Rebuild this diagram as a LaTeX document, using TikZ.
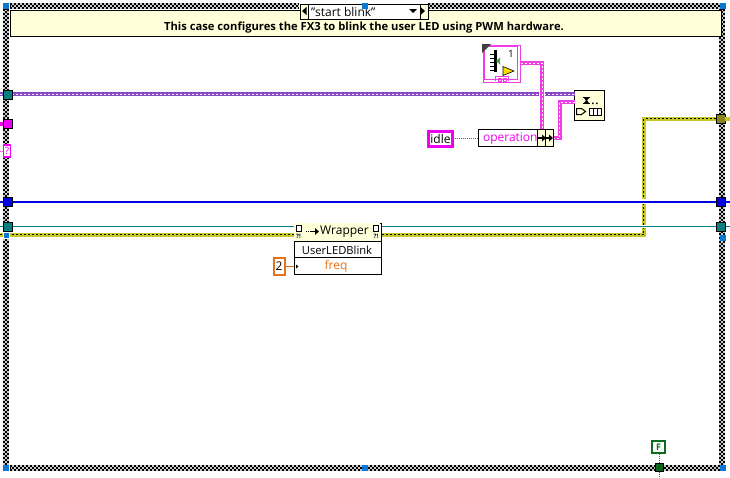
\documentclass[tikz,border=0pt]{standalone}
\usepackage{fontspec}
\setmainfont{Open Sans}
\definecolor{cream}{HTML}{FFFFD9}
\definecolor{pinkw}{HTML}{F23CE6}
\definecolor{mag}{HTML}{F000F0}
\definecolor{tealw}{HTML}{007F86}
\definecolor{tealf}{HTML}{0B7F7F}
\definecolor{purp}{HTML}{8848C8}
\definecolor{yel}{HTML}{C8C828}
\definecolor{olive2}{HTML}{8C8418}
\definecolor{bluew}{HTML}{0000E0}
\definecolor{handle}{HTML}{0A78D2}
\definecolor{orng}{HTML}{E8701A}
\definecolor{grn}{HTML}{0B6E1E}
\tikzset{
  box/.style={draw=black,line width=1pt,fill=white,inner sep=0pt,outer sep=0pt,rectangle,minimum width=#1},
  tunnel/.style={draw=black,line width=1pt,inner sep=0pt,outer sep=0pt,minimum size=9pt,fill=#1},
  handlebox/.style={fill=handle,inner sep=0pt,outer sep=0pt,minimum size=6pt},
  checkrow/.style={black,line width=2pt,dash pattern=on 2.2pt off 1.8pt},
  clusterw/.style={pinkw,line width=4pt,line join=miter,postaction={draw=white,line width=1pt,dash pattern=on 2pt off 2pt}},
  busw/.style={purp,line width=4pt,postaction={draw=white,line width=1pt,dash pattern=on 2pt off 2pt}},
  errw/.style={yel,line width=4pt,line join=miter,postaction={draw=black,line width=1.5pt,dash pattern=on 2pt off 2pt}},
  bluewire/.style={bluew,line width=2pt,preaction={draw=white,line width=5pt}},
  tealwire/.style={tealw,line width=1pt,preaction={draw=white,line width=3pt}},
  thinpink/.style={mag,line width=1pt,dash pattern=on 1.5pt off .5pt},
  lbl/.style={font=\fontsize{12}{14}\selectfont,inner sep=0pt,outer sep=0pt},
}
\newcommand{\hband}[3]{% x1 x2 ytop
  \fill[black!22] (#1,#3) rectangle (#2,#3+6);
  \draw[checkrow] (#1,#3+1) -- (#2,#3+1);
  \draw[checkrow,dash phase=2pt] (#1,#3+3) -- (#2,#3+3);
  \draw[checkrow] (#1,#3+5) -- (#2,#3+5);
}
\newcommand{\vband}[3]{% y1 y2 xleft
  \fill[black!22] (#3,#1) rectangle (#3+6,#2);
  \draw[checkrow] (#3+1,#1) -- (#3+1,#2);
  \draw[checkrow,dash phase=2pt] (#3+3,#1) -- (#3+3,#2);
  \draw[checkrow] (#3+5,#1) -- (#3+5,#2);
}
\begin{document}
\begin{tikzpicture}[x=1pt,y=-1pt]
\useasboundingbox (0,0) rectangle (730,477);
\fill[white] (0,0) rectangle (730,477);
% frame
\hband{10}{299}{3}
\hband{428}{720}{3}
\hband{10}{720}{465}
\vband{9}{465}{3}
\vband{9}{465}{719}
% comment
\node[draw=black,line width=1pt,fill=cream,minimum width=711pt,minimum height=26pt,inner sep=0pt,anchor=north west] (note) at (9.5,9.5) {};
\node[lbl,font=\fontsize{11.2}{14}\selectfont\bfseries] (notetext) at (364,27.5) {This case configures the FX3 to blink the user LED using PWM hardware.};
% selector
\node[draw=black,line width=1pt,fill=cream,minimum width=128pt,minimum height=15pt,inner sep=0pt,anchor=north west] (sel) at (299.5,3.5) {};
\node[draw=black,line width=1pt,fill=white,minimum width=112pt,minimum height=15pt,inner sep=0pt,anchor=north west] (selin) at (307.5,3.5) {};
\fill (302,11) -- (306.5,7) -- (306.5,15) -- cycle;
\fill (425,11) -- (420.5,7) -- (420.5,15) -- cycle;
\fill (409,9) -- (417,9) -- (413,13) -- cycle;
\node[lbl,anchor=west] (seltext) at (311,12) {"start blink"};
% coordinates for free wire ends
\coordinate (l94) at (0,94);
\coordinate (l123) at (0,123.5);
\coordinate (l151) at (0,151);
\coordinate (l201) at (0,201.5);
\coordinate (r201) at (730,201.5);
\coordinate (l226) at (0,226.5);
\coordinate (r226) at (730,226.5);
\coordinate (l234) at (0,234.5);
\coordinate (r118) at (730,118.5);
\coordinate (b477) at (659.5,477);
% nodes placed first
\node[tunnel=olive2] (tOlive) at (720.5,118.5) {};
\node[draw=black,line width=1pt,fill=white,minimum width=87pt,minimum height=51pt,inner sep=0pt,anchor=north west] (wrap) at (293.5,222.5) {};
% wires
\draw[errw] (l234) -- (wrap.west |- l234);
\draw[errw] (wrap.east |- l234) -- (643.5,234.5) -- (643.5,118.5) -- (tOlive.west);
\draw[yel,line width=4pt] (tOlive.east) -- (r118);
\draw[bluewire] (l201) -- (r201);
\draw[tealwire] (l226) -- (wrap.west |- l226);
\draw[tealwire] (wrap.east |- l226) -- (r226);
\node[box=30pt,fill=cream,minimum height=30pt,anchor=north west] (build) at (574.5,90.5) {};
\node[draw=pinkw,line width=1pt,fill=white,minimum width=37pt,minimum height=37pt,inner sep=0pt,anchor=north west] (icon) at (482.5,44.5) {};
\node[box=74pt,minimum height=17pt,anchor=north west] (oper) at (478.5,129.5) {};
\draw[busw] (l94) -- (build.west |- l94);
\draw[white,line width=6pt] (542,90) -- (542,98);
\draw[clusterw] (icon.east |- 0,63) -- (542,63) -- (542,129.5);
\draw[clusterw] (oper.east |- 0,138) -- (559.5,138) -- (559.5,102) -- (build.west |- 0,102);
\draw[mag,line width=4pt] (l123) -- (4,123.5);
\draw[pinkw,line width=1pt,dash pattern=on 1pt off 1pt] (l151) -- (3,151);
% tunnels
\node[tunnel=tealf] (tTealA) at (7.5,94.5) {};
\node[tunnel=mag] (tMag) at (7.5,123.5) {};
\node[draw=mag,line width=1.3pt,fill=white,minimum width=7pt,minimum height=12pt,inner sep=0pt,font=\fontsize{10}{10}\selectfont,text=mag] (tQ) at (7,151) {?};
\node[tunnel=bluew] (tBlueL) at (7.5,201.5) {};
\node[tunnel=tealf] (tTealL) at (7.5,226.5) {};
\node[tunnel=bluew] (tBlueR) at (720.5,201.5) {};
\node[tunnel=tealf] (tTealR) at (720.5,226.5) {};
% handles
\node[handlebox] (h1) at (6,6) {};
\node[handlebox] (h2) at (364.5,6) {};
\node[handlebox] (h3) at (722.5,6) {};
\node[handlebox,draw=white,line width=.5pt] (h4) at (6,235) {};
\node[handlebox] (h5) at (722.5,237.5) {};
\node[handlebox] (h6) at (6,468) {};
\node[handlebox] (h7) at (364.5,468) {};
\node[handlebox] (h8) at (722.5,468) {};
% wrapper
\fill[cream] (294,223) rectangle (380,241);
\draw[black,line width=1pt] (293.5,241.5) -- (380.5,241.5);
\draw[black,line width=1pt] (293.5,257.5) -- (380.5,257.5);
\node[lbl] (wraptext) at (344.5,232) {Wrapper};
\node[lbl,font=\fontsize{11.2}{14}\selectfont] (wrapname) at (337,250) {UserLEDBlink};
\node[lbl,text=orng] (wrapfreq) at (336,266.5) {freq};
\draw[black,line width=.8pt,fill=white] (296,225) rectangle (301.5,231.5);
\draw[black,line width=.8pt,fill=white] (373,225) rectangle (378.5,231.5);
\node[font=\fontsize{6}{6}\selectfont\bfseries,inner sep=0pt] (ql) at (298.5,236) {?!};
\node[font=\fontsize{6}{6}\selectfont\bfseries,inner sep=0pt] (qr) at (376,236) {?!};
\draw[black,line width=1pt,dash pattern=on 1pt off 1pt] (306,231.5) -- (311,231.5);
\draw[black,line width=1.5pt] (311,231.5) -- (315,231.5);
\fill (315,228) -- (319,231.5) -- (315,235) -- cycle;
\fill (296,264.5) -- (298.5,266.5) -- (296,268.5) -- cycle;
% constant 2
\node[draw=orng,line width=2pt,fill=white,minimum width=11pt,minimum height=17pt,inner sep=0pt,lbl] (two) at (279,266) {2};
\draw[orng,line width=1pt] (two.east) -- (wrap.west |- two.east);
% idle
\node[draw=mag,line width=3pt,fill=white,minimum width=24pt,minimum height=15pt,inner sep=0pt,lbl,text depth=0pt] (idle) at (440.5,138.5) {idle};
\draw[thinpink] (idle.east) -- (oper.west |- idle.east);
% operation
\node[lbl,text=mag,anchor=west] (opertext) at (483,139) {operation};
\draw[black,line width=1pt,fill=cream] (537.5,129.5) rectangle (545.5,146.5);
\draw[black,line width=1pt,fill=cream] (545.5,129.5) rectangle (553.5,146.5);
\draw[black,line width=2pt,dash pattern=on 1.5pt off .7pt] (538,138) -- (544,138);
\fill (542,134.5) -- (546,138) -- (542,141.5) -- cycle;
\draw[black,line width=2pt] (546,138) -- (549,138);
\fill (549,134.5) -- (553,138) -- (549,141.5) -- cycle;
% build icon
\draw[black,line width=1pt] (583,97.5) -- (590,97.5) (583,103.5) -- (590,103.5);
\fill (584,98) -- (589,98) -- (587,100.5) -- (589,103) -- (584,103) -- (586,100.5) -- cycle;
\fill (592,102.5) rectangle +(1.5,1.5) (596,102.5) rectangle +(1.5,1.5);
\draw[black,line width=1pt] (576.5,108.5) -- (581.5,108.5) -- (585.5,111.5) -- (581.5,114.5) -- (576.5,114.5) -- cycle;
\draw[black,line width=1pt,fill=white] (589.5,108.5) rectangle (601.5,115.5);
\draw[black,line width=1pt] (593.5,108.5) -- (593.5,115.5) (597.5,108.5) -- (597.5,115.5);
% clock icon
\draw[pinkw,line width=1pt] (484.5,46.5) rectangle (517.5,79.5);
\fill[black!75] (482,44) -- (491,44) -- (482,53) -- cycle;
\fill[black] (494,50) rectangle (496.5,72);
\foreach \yy in {54,58,62,66,70} \draw[black,line width=.7pt] (490,\yy) -- (494,\yy);
\fill[green!45!black!70] (496,61) -- (500,57.5) -- (500,64.5) -- cycle;
\node[font=\fontsize{10}{10}\selectfont,inner sep=0pt] (one) at (511,54) {1};
\draw[black,line width=.6pt,fill=yellow!80!orange] (503,66.5) -- (514,71) -- (503,75.5) -- cycle;
\draw[pinkw,line width=1pt] (495,81) -- (495,76.5) -- (508,76.5) -- (508,81);
\draw[pinkw,line width=1pt] (498,78.5) rectangle (501,81) (503,78.5) rectangle (506,81);
% F constant and terminal
\node[draw=grn,line width=2pt,fill=white,minimum width=13pt,minimum height=12pt,inner sep=0pt,text=grn,font=\fontsize{9}{9}\selectfont\bfseries] (fc) at (658.5,447) {F};
\node[fill=grn!90!black,draw=black,line width=.8pt,minimum size=8pt,inner sep=0pt] (term) at (659.5,467.5) {};
\draw[grn,line width=1pt,dash pattern=on 1pt off 1pt] (fc.south -| term) -- (term.north);
\draw[grn,line width=1pt,dash pattern=on 1pt off 1pt] (term.south) -- (b477);
\end{tikzpicture}
\end{document}
